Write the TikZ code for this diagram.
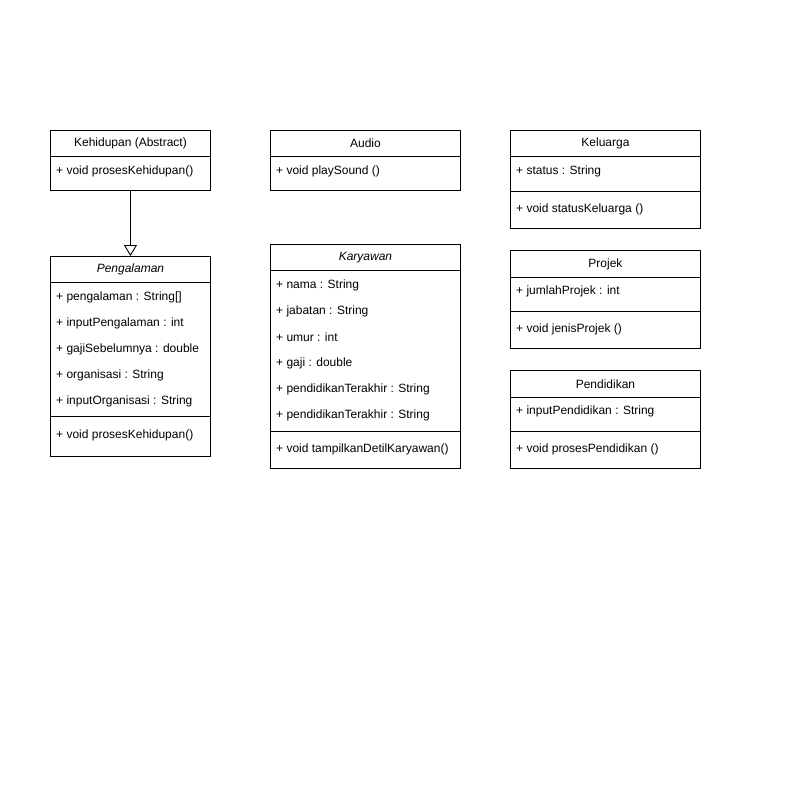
\documentclass[tikz,border=0pt]{standalone}
\usepackage{fontspec}
\setmainfont{Liberation Sans}
\usetikzlibrary{arrows.meta, positioning}

\begin{document}
\begin{tikzpicture}[x=1pt, y=-1pt,
  classhead/.style={rectangle, draw=black, line width=0.9pt, anchor=north west, inner sep=2pt, font=\fontsize{12}{14}\selectfont},
  classpart/.style={rectangle, draw=black, line width=0.9pt, anchor=north west, inner sep=0pt},
  member/.style={anchor=west, inner sep=0pt, yshift=-1pt, font=\fontsize{12}{14}\selectfont}]
\useasboundingbox (0,0) rectangle (790,812);

% Kehidupan
\node[classhead, minimum width=160pt, minimum height=26pt] (kehHead) at (50,130) {Kehidupan (Abstract)};
\node[classpart, minimum width=160pt, minimum height=34pt] (kehOps) at (50,156) {};
\node[member] (kehOp1) at (56,170) {+ void prosesKehidupan()};

% Pengalaman
\node[classhead, minimum width=160pt, minimum height=26pt] (pengHead) at (50,256) {\itshape Pengalaman};
\node[classpart, minimum width=160pt, minimum height=134pt] (pengAttr) at (50,282) {};
\node[classpart, minimum width=160pt, minimum height=40pt] (pengOps) at (50,416) {};
\node[member] (pengA1) at (56,296) {+ pengalaman : String[]};
\node[member] (pengA2) at (56,322) {+ inputPengalaman : int};
\node[member] (pengA3) at (56,348) {+ gajiSebelumnya : double};
\node[member] (pengA4) at (56,374) {+ organisasi : String};
\node[member] (pengA5) at (56,400) {+ inputOrganisasi : String};
\node[member] (pengOp1) at (56,434) {+ void prosesKehidupan()};

% Audio
\node[classhead, minimum width=190pt, minimum height=26pt] (audioHead) at (270,130) {Audio};
\node[classpart, minimum width=190pt, minimum height=34pt] (audioOps) at (270,156) {};
\node[member] (audioOp1) at (276,170) {+ void playSound ()};

% Karyawan
\node[classhead, minimum width=190pt, minimum height=26pt] (karHead) at (270,244) {\itshape Karyawan};
\node[classpart, minimum width=190pt, minimum height=161pt] (karAttr) at (270,270) {};
\node[classpart, minimum width=190pt, minimum height=37pt] (karOps) at (270,431) {};
\node[member] (karA1) at (276,284) {+ nama : String};
\node[member] (karA2) at (276,310) {+ jabatan : String};
\node[member] (karA3) at (276,336) {+ umur : int};
\node[member] (karA4) at (276,362) {+ gaji : double};
\node[member] (karA5) at (276,388) {+ pendidikanTerakhir : String};
\node[member] (karA6) at (276,414) {+ pendidikanTerakhir : String};
\node[member] (karOp1) at (276,448) {+ void tampilkanDetilKaryawan()};

% Keluarga
\node[classhead, minimum width=190pt, minimum height=26pt] (kelHead) at (510,130) {Keluarga};
\node[classpart, minimum width=190pt, minimum height=35pt] (kelAttr) at (510,156) {};
\node[classpart, minimum width=190pt, minimum height=37pt] (kelOps) at (510,191) {};
\node[member] (kelA1) at (516,170) {+ status : String};
\node[member] (kelOp1) at (516,208) {+ void statusKeluarga ()};

% Projek
\node[classhead, minimum width=190pt, minimum height=27pt] (projHead) at (510,250) {Projek};
\node[classpart, minimum width=190pt, minimum height=34pt] (projAttr) at (510,277) {};
\node[classpart, minimum width=190pt, minimum height=37pt] (projOps) at (510,311) {};
\node[member] (projA1) at (516,290) {+ jumlahProjek : int};
\node[member] (projOp1) at (516,328) {+ void jenisProjek ()};

% Pendidikan
\node[classhead, minimum width=190pt, minimum height=27pt] (pendHead) at (510,370) {Pendidikan};
\node[classpart, minimum width=190pt, minimum height=34pt] (pendAttr) at (510,397) {};
\node[classpart, minimum width=190pt, minimum height=37pt] (pendOps) at (510,431) {};
\node[member] (pendA1) at (516,410) {+ inputPendidikan : String};
\node[member] (pendOp1) at (516,448) {+ void prosesPendidikan ()};

% inheritance
\draw[line width=0.9pt, -{Triangle[open, length=11pt, width=13pt]}] (kehOps.south) -- (pengHead.north);
\end{tikzpicture}
\end{document}
